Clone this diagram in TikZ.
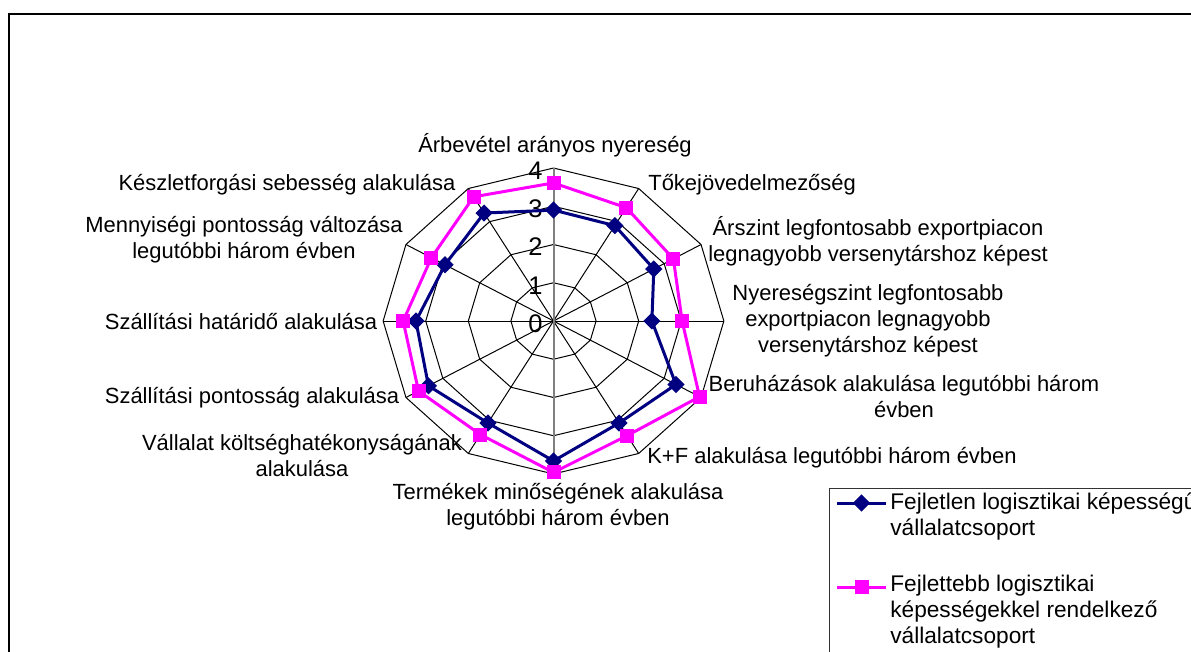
\documentclass[tikz,border=0pt]{standalone}
\usepackage{fontspec}
\setmainfont{Liberation Sans}
\usetikzlibrary{shapes.geometric}
\definecolor{navy}{RGB}{0,0,128}
\definecolor{pinkline}{RGB}{255,0,255}
\tikzstyle{bluedot}=[diamond,fill=navy,inner sep=0pt,minimum size=0.35cm]
\tikzstyle{pinkdot}=[rectangle,fill=pinkline,inner sep=0pt,minimum size=0.28cm]
\tikzstyle{blueline}=[draw=navy,line width=0.06cm,line join=round]
\tikzstyle{pinkline}=[draw=pinkline,line width=0.06cm,line join=round]
\tikzstyle{gridline}=[draw=black,line width=0.02cm]
\tikzstyle{lbl}=[inner sep=0pt,align=center,font=\fontsize{12.5}{14.8}\selectfont]
\tikzstyle{ticklbl}=[inner sep=0pt,anchor=east,font=\fontsize{14.5}{16}\selectfont]

\begin{document}
\begin{tikzpicture}[x=0.02cm,y=-0.02cm]
  \useasboundingbox (0,0) rectangle (1191,652);
  \clip (0,0) rectangle (1191,652);
  \draw[line width=0.05cm] (9,680) -- (9,14) -- (1220,14);

  % radar grid and series
  \begin{scope}[shift={(553.5,321)},x=0.852cm,y=0.765cm]
    \foreach \r in {1,...,4}
      \draw[gridline] (0:\r) \foreach \a in {30,60,...,330} {-- (\a:\r)} -- cycle;
    \foreach \a in {0,30,...,330}
      \draw[gridline] (0,0) -- (\a:4);
    \draw[draw=gray,line width=0.04cm] (0,-4) -- (0,4);
    \foreach \k in {0,...,4}
      \node[ticklbl,yshift=-0.05cm] (t\k) at (-0.25,\k) {\k};

    \foreach \v [count=\i from 0] in {2.9,2.88,2.72,2.31,3.32,3.08,3.66,3.08,3.39,3.23,2.94,3.26}
      \coordinate (b\i) at ({90-30*\i}:\v);
    \draw[blueline] (b0) -- (b1) -- (b2) -- (b3) -- (b4) -- (b5) -- (b6)
      -- (b7) -- (b8) -- (b9) -- (b10) -- (b11) -- cycle;
    \foreach \i in {0,...,11}
      \node[bluedot] (bm\i) at (b\i) {};

    \foreach \v [count=\i from 0] in {3.61,3.42,3.25,3.02,3.96,3.46,3.96,3.43,3.66,3.53,3.31,3.75}
      \coordinate (p\i) at ({90-30*\i}:\v);
    \draw[pinkline] (p0) -- (p1) -- (p2) -- (p3) -- (p4) -- (p5) -- (p6)
      -- (p7) -- (p8) -- (p9) -- (p10) -- (p11) -- cycle;
    \foreach \i in {0,...,11}
      \node[pinkdot] (pm\i) at (p\i) {};
  \end{scope}

  % axis labels
  \node[lbl] (ax0) at (555,145) {Árbevétel arányos nyereség};
  \node[lbl,anchor=west] (ax1) at (648,185) {Tőkejövedelmezőség};
  \node[lbl] (ax2) at (878,241) {Árszint legfontosabb exportpiacon\\legnagyobb versenytárshoz képest};
  \node[lbl] (ax3) at (868,321) {Nyereségszint legfontosabb\\exportpiacon legnagyobb\\versenytárshoz képest};
  \node[lbl] (ax4) at (904,397) {Beruházások alakulása legutóbbi három\\évben};
  \node[lbl] (ax5) at (832,458) {K+F alakulása legutóbbi három évben};
  \node[lbl] (ax6) at (558,507) {Termékek minőségének alakulása\\legutóbbi három évben};
  \node[lbl] (ax7) at (302,456) {Vállalat költséghatékonyságának\\alakulása};
  \node[lbl] (ax8) at (252,398) {Szállítási pontosság alakulása};
  \node[lbl] (ax9) at (241,322) {Szállítási határidő alakulása};
  \node[lbl] (ax10) at (244,240) {Mennyiségi pontosság változása\\legutóbbi három évben};
  \node[lbl] (ax11) at (287,185) {Készletforgási sebesség alakulása};

  % legend
  \draw[draw=black!80,line width=0.02cm] (829,488) rectangle (1220,680);
  \coordinate (lb1) at (837,503);
  \coordinate (lb2) at (886,503);
  \draw[blueline] (lb1) -- (lb2);
  \node[bluedot] (lbm) at (861.5,503) {};
  \node[lbl,align=left,anchor=west,font=\fontsize{12.9}{14.8}\selectfont] (lt1) at (890,516.5) {Fejletlen logisztikai képességű\\vállalatcsoport};
  \coordinate (lp1) at (837,587);
  \coordinate (lp2) at (886,587);
  \draw[pinkline] (lp1) -- (lp2);
  \node[pinkdot] (lpm) at (861.5,587) {};
  \node[lbl,align=left,anchor=west,font=\fontsize{12.9}{14.8}\selectfont] (lt2) at (890,612) {Fejlettebb logisztikai\\képességekkel rendelkező\\vállalatcsoport};
\end{tikzpicture}
\end{document}
